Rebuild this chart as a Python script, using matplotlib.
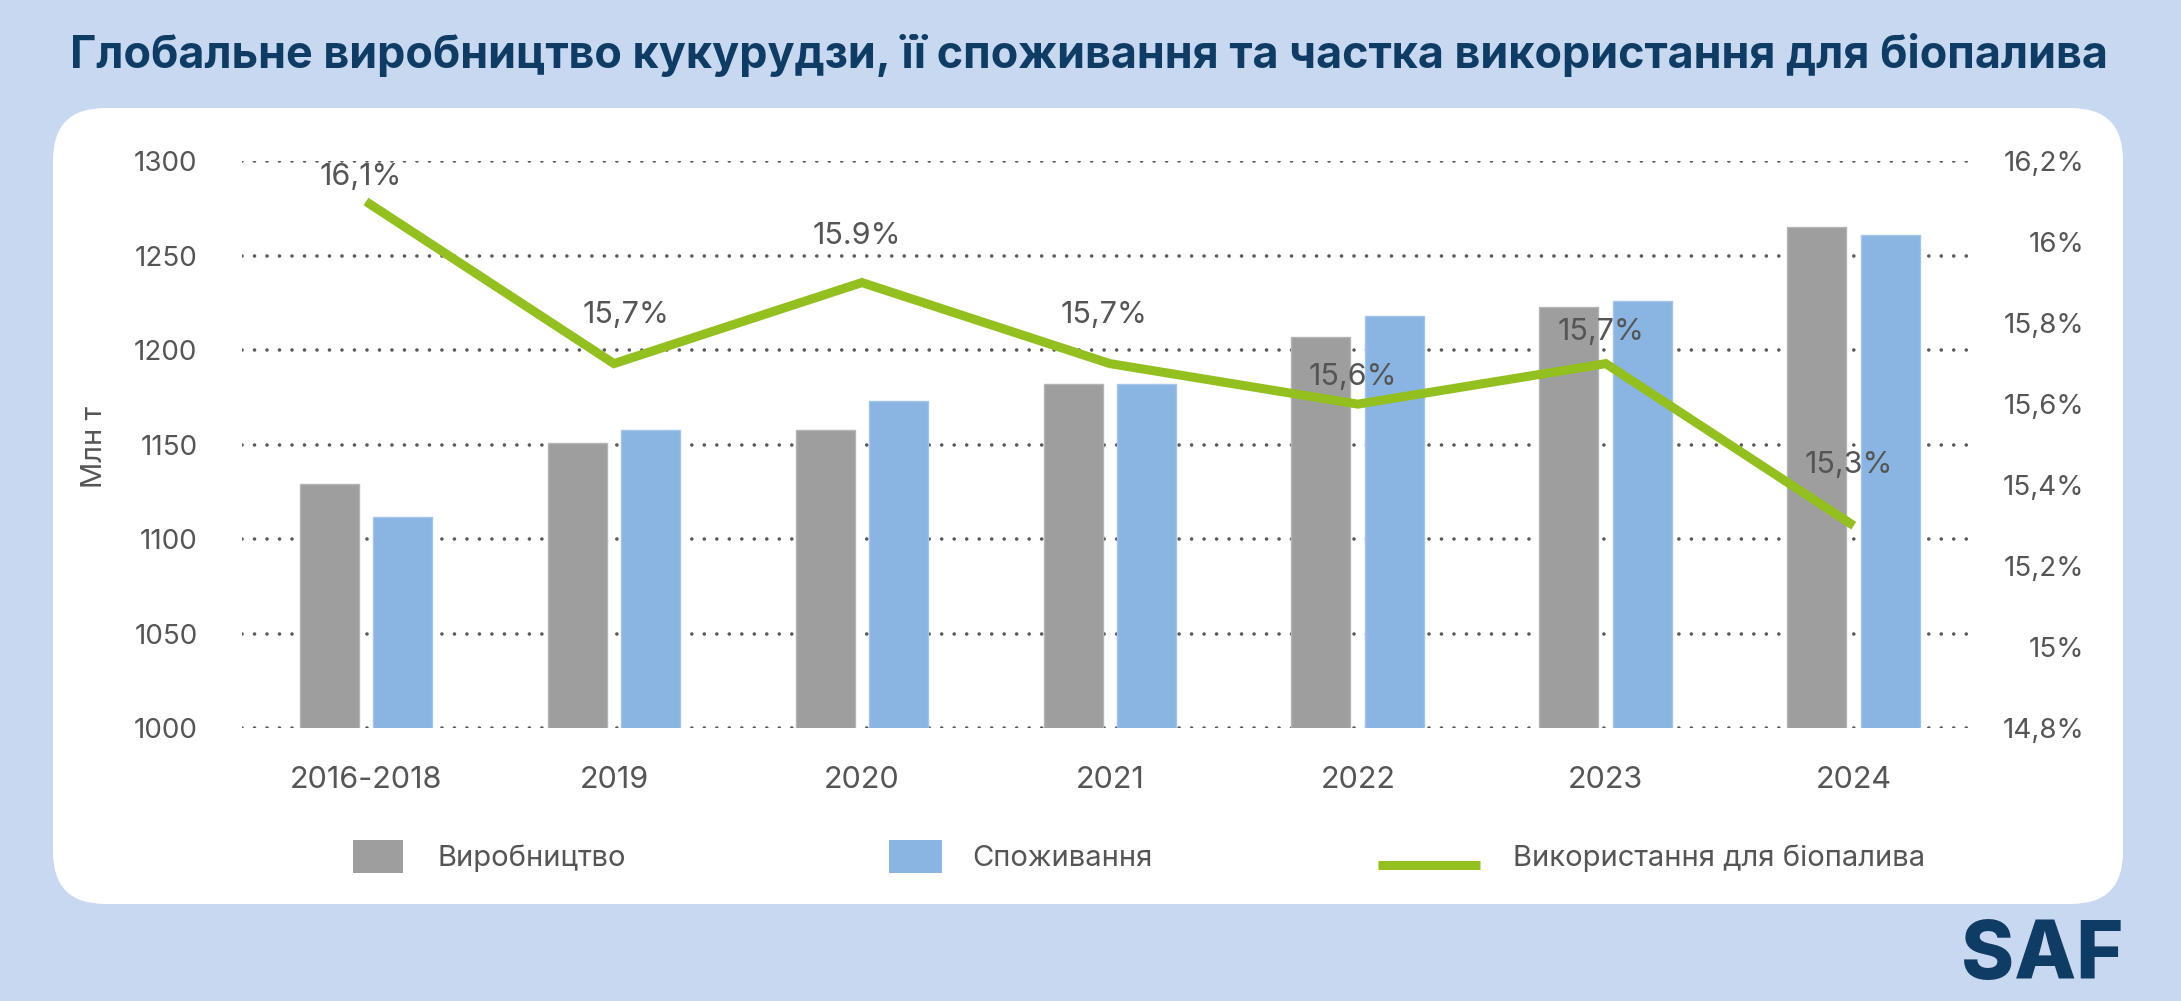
import matplotlib
matplotlib.use("Agg")
import matplotlib.pyplot as plt
import numpy as np
from matplotlib.patches import FancyBboxPatch, Rectangle
from matplotlib.lines import Line2D
from matplotlib.transforms import IdentityTransform
from matplotlib.ticker import FixedLocator, FixedFormatter

# ---------------- data ----------------
categories = ["2016-2018", "2019", "2020", "2021", "2022", "2023", "2024"]
production = [1129, 1151, 1158, 1182, 1207, 1223, 1265]
consumption = [1112, 1158, 1173, 1182, 1218, 1226, 1261]
biofuel_share = [16.1, 15.7, 15.9, 15.7, 15.6, 15.7, 15.3]
share_labels = ["16,1%", "15,7%", "15.9%", "15,7%", "15,6%", "15,7%", "15,3%"]
left_ticks = [1000, 1050, 1100, 1150, 1200, 1250, 1300]
right_ticks = [14.8, 15.0, 15.2, 15.4, 15.6, 15.8, 16.0, 16.2]
right_tick_labels = ["14,8%", "15%", "15,2%", "15,4%", "15,6%", "15,8%", "16%", "16,2%"]
legend_labels = ["Виробництво", "Споживання", "Використання для біопалива"]
title_text = "Глобальне виробництво кукурудзи, її споживання та частка використання для біопалива"
y_label = "Млн т"
logo_text = "SAF"

# label offsets (points) for data labels
label_offsets = [(-3.6, 17.6), (8.6, 35.0), (-3.6, 33.5), (-4.3, 35.3),
                 (-3.6, 19.8), (-3.6, 23.0), (-3.6, 43.7)]

# ---------------- style ----------------
BG = "#C8D8F0"
NAVY = "#0F3C64"
GRAY = "#9E9E9E"
BLUE = "#8AB4E1"
GREEN = "#93C01F"
TXT = "#555555"
FONT = ["Inter", "DejaVu Sans"]
plt.rcParams["font.family"] = FONT

W, H = 2181, 1001
fig = plt.figure(figsize=(W / 100, H / 100), dpi=100, facecolor=BG)

# white rounded panel (pixel coordinates)
x0, x1 = 53, 2123
ytop, ybot = 108, 904
panel = FancyBboxPatch((x0, H - ybot), x1 - x0, ybot - ytop,
                       boxstyle="round,pad=0,rounding_size=52",
                       transform=IdentityTransform(), facecolor="white",
                       edgecolor="none", zorder=-10)
fig.patches.append(panel)

# axes
ax_left, ax_right = 242 / W, 1977.7 / W
ax_bottom, ax_top = 1 - 728.3 / H, 1 - 161 / H
ax = fig.add_axes([ax_left, ax_bottom, ax_right - ax_left, ax_top - ax_bottom])
ax.patch.set_visible(False)
ax.set_zorder(1)

x = np.arange(len(categories))
bw = 0.238
off = 0.1485
ax.bar(x - off, production, width=bw, color=GRAY, edgecolor="#B4B4B4", linewidth=1, zorder=2)
ax.bar(x + off, consumption, width=bw, color=BLUE, edgecolor="#A3C5EA", linewidth=1, zorder=2)

ax.set_xlim(-0.5, 6.5)
ax.set_ylim(1000, 1300)
ax.yaxis.set_major_locator(FixedLocator(left_ticks))
ax.set_yticklabels([str(v) for v in left_ticks])
ax.set_xticks(x)
ax.set_xticklabels(categories)
ax.set_axisbelow(True)
ax.grid(axis="y", color="#5A5A5A", linewidth=2.6, linestyle=(0, (0.01, 3.45)),
        dash_capstyle="round", zorder=0)
ax.grid(axis="x", visible=False)
for s in ax.spines.values():
    s.set_visible(False)
ax.tick_params(axis="y", length=0, pad=32, labelsize=20, labelcolor=TXT)
ax.tick_params(axis="x", length=0, pad=27.5, labelsize=22, labelcolor=TXT)

# secondary axis
ax2 = ax.twinx()
ax2.patch.set_visible(False)
ax2.set_ylim(14.8, 16.2)
ax2.yaxis.set_major_locator(FixedLocator(right_ticks))
ax2.yaxis.set_major_formatter(FixedFormatter(right_tick_labels))
for s in ax2.spines.values():
    s.set_visible(False)
ax2.tick_params(axis="y", length=0, pad=77, labelsize=20, labelcolor=TXT)
for lab in ax2.get_yticklabels():
    lab.set_horizontalalignment("right")

ax2.plot(x, biofuel_share, color=GREEN, linewidth=6.5, solid_joinstyle="miter",
         solid_capstyle="butt", zorder=3)
for xi, yi, lab, (dx, dy) in zip(x, biofuel_share, share_labels, label_offsets):
    ax2.annotate(lab, (xi, yi), xytext=(dx, dy), textcoords="offset points",
                 ha="center", va="center", fontsize=22, color=TXT, zorder=4)

# y-axis label
fig.text(94 / W, 1 - 447 / H, y_label, rotation=90, ha="center", va="center",
         fontsize=21, color=TXT)

# title
fig.text(0.4995, 1 - 55 / H, title_text, ha="center", va="center",
         fontsize=32.4, fontweight="bold", color=NAVY)

# legend (manual)
ly = 858
fig.patches.append(Rectangle((352.7, H - 872.7), 50, 33, transform=IdentityTransform(),
                             facecolor=GRAY, edgecolor="none"))
fig.text(438 / W, 1 - ly / H, legend_labels[0], ha="left", va="center", fontsize=21, color=TXT)
fig.patches.append(Rectangle((889, H - 872.7), 53, 33, transform=IdentityTransform(),
                             facecolor=BLUE, edgecolor="none"))
fig.text(972 / W, 1 - ly / H, legend_labels[1], ha="left", va="center", fontsize=21, color=TXT)
fig.lines.append(Line2D([1378, 1480], [H - 864.5, H - 864.5], transform=IdentityTransform(),
                        color=GREEN, linewidth=6.5, solid_capstyle="butt"))
fig.text(1513 / W, 1 - ly / H, legend_labels[2], ha="left", va="center", fontsize=21, color=TXT)

# logo
fig.text(2123 / W, 1 - 979.5 / H, logo_text, ha="right", va="baseline",
         fontsize=58, fontweight="heavy", color=NAVY)

fig.savefig("out.png", dpi=100, facecolor=BG)
